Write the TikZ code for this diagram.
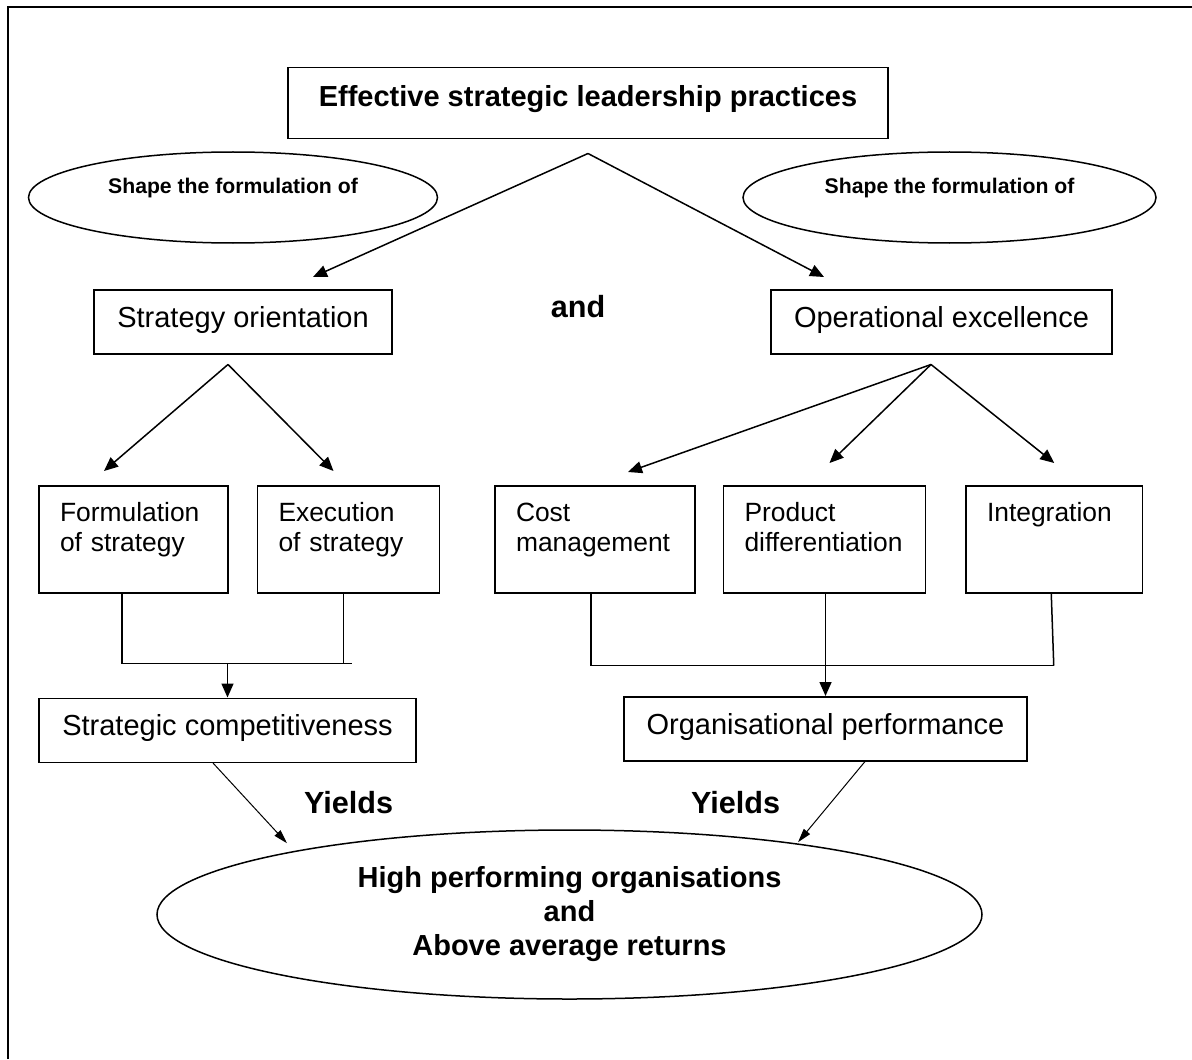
\documentclass[tikz,border=0pt]{standalone}
\usepackage{fontspec}
\setmainfont{Liberation Sans}
\usetikzlibrary{arrows.meta,positioning,shapes.geometric,calc}
\tikzset{
    leadbox/.style={rectangle,draw,line width=0.75pt,font=\bfseries\fontsize{14.5}{17}\selectfont,minimum width=300pt,inner sep=0pt,text height=19.5pt,text depth=16pt},
    levelbox/.style={rectangle,draw,line width=0.75pt,font=\fontsize{14.5}{17}\selectfont,inner sep=0pt,text height=18.75pt,text depth=13.25pt},
    itembox/.style={rectangle,draw,line width=0.75pt,align=left,font=\fontsize{13.2}{14.65}\selectfont,inner xsep=10.5pt,inner ysep=0pt,text height=18pt,text depth=35.5pt},
    shapeoval/.style={ellipse,draw,line width=0.75pt,font=\bfseries\fontsize{10.6}{12.7}\selectfont,inner sep=0pt,minimum height=45.5pt,text height=4pt,text depth=8.5pt},
    goaloval/.style={ellipse,draw,line width=0.75pt,align=center,font=\bfseries\fontsize{14.5}{17}\selectfont,minimum width=412.5pt,minimum height=84.5pt},
    boldlabel/.style={font=\bfseries\fontsize{15.3}{18}\selectfont,inner sep=0pt},
    flowline/.style={-{Triangle[length=7pt,width=6pt]},line width=0.75pt},
    joinline/.style={line width=0.75pt},
    yieldline/.style={-{Triangle[length=7pt,width=4pt]},line width=0.5pt}
}
\begin{document}
\begin{tikzpicture}[x=0.5pt,y=0.5pt]
    \useasboundingbox (0,0) rectangle (1192,-1059);
    \draw[line width=1pt] (8,-1059) -- (8,-7.5) -- (1192,-7.5);
    \node[leadbox,anchor=north] (lead) at (588,-67) {Effective strategic leadership practices};
    \node[shapeoval,minimum width=204.5pt] (shapel) at (233,-197.5) {Shape the formulation of};
    \node[shapeoval,minimum width=206.5pt] (shaper) at (949.5,-197.5) {Shape the formulation of};
    \node[levelbox,minimum width=149pt,anchor=north] (strat) at (243,-289) {Strategy orientation};
    \node[levelbox,minimum width=170.5pt,anchor=north] (oper) at (941.5,-289) {Operational excellence};
    \node[boldlabel] (andlabel) at (578,-306.5) {and};
    \node[itembox,text width=73.5pt,anchor=north] (form) at (133.5,-485) {Formulation\\of strategy};
    \node[itembox,text width=70pt,right=14pt of form] (exec) {Execution\\of strategy};
    \node[itembox,text width=79pt,right=27pt of exec] (cost) {Cost\\management};
    \node[itembox,text width=80pt,right=13.5pt of cost] (prod) {Product\\differentiation};
    \node[itembox,text width=67.25pt,right=19.5pt of prod] (integ) {Integration\\\mbox{}};
    \node[levelbox,minimum width=188.5pt,below right=52pt and 0pt of form.south west] (comp) {Strategic competitiveness};
    \node[levelbox,minimum width=201.5pt,anchor=north] (org) at (825.5,-696) {Organisational performance};
    \node[boldlabel] (yieldl) at (348.5,-802.5) {Yields};
    \node[boldlabel] (yieldr) at (735.5,-802.5) {Yields};
    \node[goaloval] (goal) at (569.5,-914.5) {High performing organisations\\and\\Above average returns};
    \coordinate (leadsplit) at ($(lead.south)+(0,-14)$);
    \coordinate (stratsplit) at ($(strat.south)+(-15,-10)$);
    \coordinate (opersplit) at ($(oper.south)+(-10.5,-10)$);
    \coordinate (compjoin) at ($(comp.north)+(0,34)$);
    \draw[flowline] (leadsplit) -- ($(strat.north)+(70,12)$);
    \draw[flowline] (leadsplit) -- ($(oper.north)+(-117.5,12)$);
    \draw[flowline] (stratsplit) -- ($(form.north)+(-29.5,14)$);
    \draw[flowline] (stratsplit) -- ($(exec.north)+(-15,14)$);
    \draw[flowline] (opersplit) -- ($(cost.north)+(33,13)$);
    \draw[flowline] (opersplit) -- ($(prod.north)+(5,22)$);
    \draw[flowline] (opersplit) -- ($(integ.north)+(0,22)$);
    \draw[joinline] ($(form.south)+(-11.5,0)$) |- ($(exec.south)+(3,-70)$);
    \draw[joinline] ($(exec.south)+(-5,0)$) -- ++(0,-70);
    \draw[flowline] (compjoin) -- (comp.north);
    \draw[joinline] ($(cost.south)+(-4,0)$) |- ($(integ.south)+(0,-72)$);
    \draw[joinline] ($(integ.south)+(-3,0)$) -- ($(integ.south)+(-0.5,-72)$);
    \draw[flowline] (prod.south -| org.north) -- (org.north);
    \draw[yieldline] ($(comp.south)+(-14.5,0)$) -- ($(goal.north)+(-282.5,-14)$);
    \draw[yieldline] ($(org.south)+(39.5,0)$) -- ($(goal.north)+(228.5,-13)$);
\end{tikzpicture}
\end{document}
